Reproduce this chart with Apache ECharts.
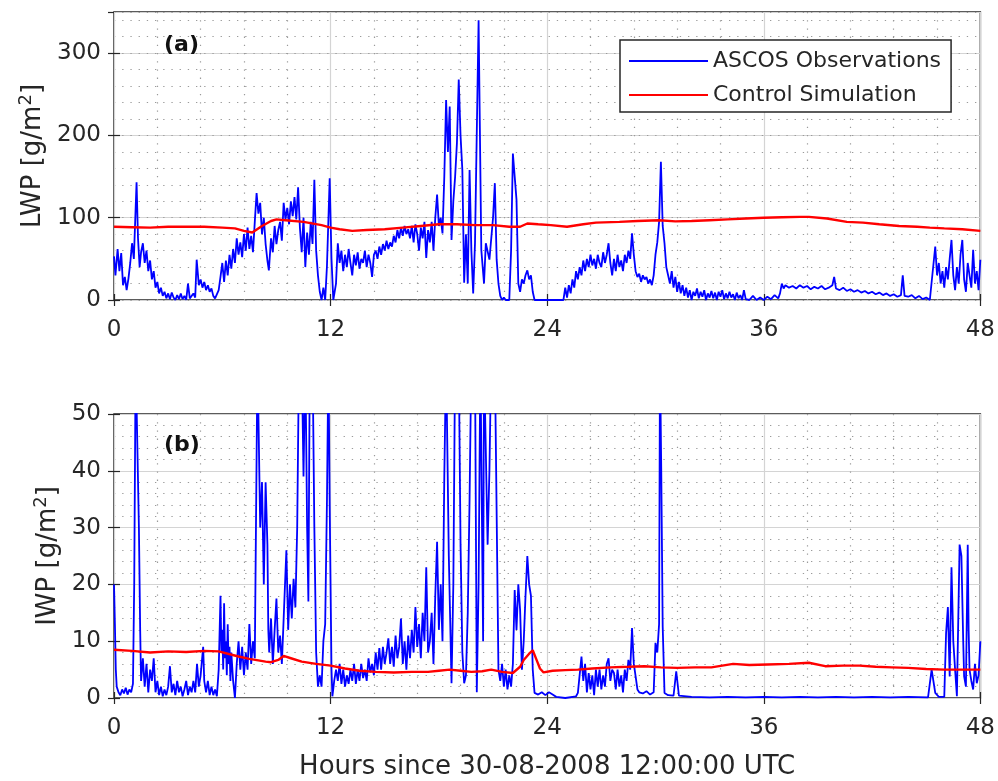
<!DOCTYPE html>
<html>
<head>
<meta charset="utf-8">
<script src="https://cdn.jsdelivr.net/npm/echarts@6/dist/echarts.min.js"></script>
<style>html,body{margin:0;padding:0;background:#fff;}#c{width:998px;height:781px;}</style>
</head>
<body>
<div id="c"></div>
<script>
// Hours since 30-08-2008 12:00:00 UTC
const xTicks = [0, 12, 24, 36, 48];
const lwpTicks = [0, 100, 200, 300];
const iwpTicks = [0, 10, 20, 30, 40, 50];

// LWP observations [hour, g/m2]
const obsLWP = [[0,53],[0.08,30],[0.2,62],[0.3,35],[0.4,57],[0.5,18],[0.6,28],[0.7,12],[0.8,26],[0.9,45],[1.0,69],[1.1,50],[1.25,143],[1.33,75],[1.42,40],[1.5,58],[1.6,69],[1.7,45],[1.8,60],[1.9,35],[2.0,48],[2.1,25],[2.2,35],[2.3,15],[2.4,22],[2.5,8],[2.6,15],[2.7,5],[2.8,10],[2.9,2],[3.0,8],[3.1,1],[3.2,9],[3.3,3],[3.4,0],[3.5,6],[3.6,1],[3.7,8],[3.8,1],[3.9,5],[4.0,0],[4.1,20],[4.2,2],[4.3,0],[4.4,8],[4.5,3],[4.58,49],[4.7,18],[4.8,25],[4.9,15],[5.0,22],[5.1,12],[5.2,18],[5.3,10],[5.4,14],[5.5,5],[5.6,2],[5.7,0],[5.8,12],[5.9,28],[6.0,45],[6.1,22],[6.2,48],[6.3,30],[6.4,55],[6.5,38],[6.6,62],[6.7,45],[6.8,75],[6.9,55],[7.0,70],[7.1,52],[7.2,80],[7.3,60],[7.4,88],[7.5,62],[7.6,78],[7.7,58],[7.8,95],[7.9,130],[8.0,105],[8.1,118],[8.2,80],[8.3,100],[8.4,68],[8.5,48],[8.58,36],[8.7,75],[8.8,58],[8.9,90],[9.0,68],[9.1,85],[9.2,95],[9.3,72],[9.4,118],[9.5,98],[9.6,112],[9.7,92],[9.8,120],[9.9,102],[10.0,125],[10.1,98],[10.2,137],[10.3,88],[10.4,58],[10.5,100],[10.6,40],[10.7,82],[10.8,55],[10.9,95],[11.0,68],[11.1,146],[11.2,60],[11.3,30],[11.4,10],[11.5,0],[11.6,15],[11.7,0],[11.8,42],[11.95,148],[12.05,50],[12.15,0],[12.3,20],[12.4,69],[12.5,45],[12.6,60],[12.7,35],[12.8,55],[12.9,40],[13.0,62],[13.1,45],[13.2,30],[13.3,55],[13.4,42],[13.5,58],[13.6,38],[13.7,50],[13.8,45],[13.9,60],[14.0,40],[14.1,55],[14.2,45],[14.3,28],[14.4,55],[14.5,60],[14.6,50],[14.7,65],[14.8,55],[14.9,68],[15.0,60],[15.1,72],[15.2,62],[15.3,70],[15.4,65],[15.5,78],[15.6,70],[15.7,85],[15.8,75],[15.9,88],[16.0,78],[16.1,90],[16.2,80],[16.3,86],[16.4,75],[16.5,90],[16.6,70],[16.7,92],[16.8,80],[16.9,60],[17.0,88],[17.1,75],[17.2,95],[17.3,51],[17.4,85],[17.5,70],[17.6,95],[17.7,60],[17.8,100],[17.9,128],[18.0,90],[18.1,100],[18.2,81],[18.3,150],[18.4,243],[18.5,180],[18.6,235],[18.7,73],[18.8,120],[18.9,150],[19.0,191],[19.1,268],[19.2,200],[19.3,158],[19.4,21],[19.5,80],[19.6,20],[19.7,158],[19.8,60],[19.9,8],[20.0,69],[20.2,340],[20.35,61],[20.5,20],[20.6,69],[20.8,49],[21.0,100],[21.1,142],[21.2,49],[21.3,20],[21.4,5],[21.5,0],[21.6,3],[21.7,0],[21.8,2],[21.9,0],[22.0,60],[22.1,178],[22.2,150],[22.3,122],[22.4,20],[22.5,10],[22.6,25],[22.7,20],[22.8,30],[22.9,36],[23.0,25],[23.1,30],[23.2,10],[23.3,0],[24.0,0],[24.9,0],[25.0,15],[25.1,3],[25.2,18],[25.3,8],[25.4,25],[25.5,15],[25.6,35],[25.7,25],[25.8,40],[25.9,30],[26.0,48],[26.1,35],[26.2,50],[26.3,40],[26.4,55],[26.5,42],[26.6,50],[26.7,38],[26.8,55],[26.9,45],[27.0,40],[27.1,58],[27.2,45],[27.3,55],[27.4,69],[27.5,45],[27.6,30],[27.7,50],[27.8,35],[27.9,55],[28.0,40],[28.1,48],[28.2,35],[28.3,55],[28.4,45],[28.5,60],[28.6,50],[28.7,81],[28.8,55],[28.9,35],[29.0,28],[29.1,32],[29.2,22],[29.3,30],[29.4,25],[29.5,28],[29.6,20],[29.7,25],[29.8,18],[29.9,30],[30.0,55],[30.1,70],[30.2,95],[30.3,168],[30.4,90],[30.5,69],[30.6,40],[30.7,30],[30.8,20],[30.9,35],[31.0,15],[31.1,28],[31.2,10],[31.3,22],[31.4,8],[31.5,18],[31.6,5],[31.7,15],[31.8,3],[31.9,12],[32.0,0],[32.1,10],[32.2,5],[32.3,14],[32.4,2],[32.5,10],[32.6,4],[32.7,12],[32.8,0],[32.9,8],[33.0,3],[33.1,11],[33.2,2],[33.3,9],[33.4,0],[33.5,10],[33.6,4],[33.7,12],[33.8,1],[33.9,8],[34.0,2],[34.1,10],[34.2,3],[34.3,7],[34.4,0],[34.5,9],[34.6,2],[34.7,6],[34.8,0],[34.9,12],[35.0,1],[35.2,0],[35.4,5],[35.6,0],[35.8,3],[36.0,0],[36.2,4],[36.4,1],[36.6,6],[36.8,2],[36.9,8],[37.0,20],[37.1,14],[37.2,18],[37.4,15],[37.6,17],[37.8,14],[38.0,18],[38.2,15],[38.4,17],[38.6,13],[38.8,16],[39.0,14],[39.2,17],[39.4,13],[39.6,15],[39.8,18],[39.9,28],[40.0,14],[40.2,12],[40.4,15],[40.6,11],[40.8,13],[41.0,10],[41.2,12],[41.4,9],[41.6,11],[41.8,8],[42.0,10],[42.2,7],[42.4,9],[42.6,6],[42.8,8],[43.0,5],[43.2,7],[43.4,4],[43.6,6],[43.7,30],[43.8,5],[44.0,4],[44.2,6],[44.4,2],[44.6,5],[44.8,1],[45.0,3],[45.2,0],[45.3,0],[45.5,65],[45.6,30],[45.7,45],[45.8,20],[45.9,35],[46.0,15],[46.1,40],[46.2,25],[46.3,50],[46.4,73],[46.5,30],[46.6,12],[46.7,40],[46.8,20],[46.9,55],[47.0,73],[47.1,25],[47.2,10],[47.3,45],[47.4,30],[47.5,15],[47.6,61],[47.7,20],[47.8,35],[47.9,12],[48.0,49]];

// LWP control simulation [hour, g/m2]
const simLWP = [[0,89],[1,88.5],[2,88],[3,89],[4,89],[5,89],[6,88],[6.7,87],[7.2,84],[7.66,82],[8.2,90],[8.7,96],[9.0,98],[9.5,97],[10.5,95],[11.5,91],[12,88],[12.5,86],[13.2,84],[14,85],[15,86],[16,88],[17,90],[18,92],[19,92],[20,91],[21,91],[21.9,89],[22.5,89],[22.9,93],[23.5,92],[24.2,91],[25.1,89],[26,92],[26.7,94],[28,95],[29,96],[30.2,97],[31.1,95.5],[32,96],[33,97],[34,98],[35,99],[36,100],[37,100.5],[38,101],[38.5,101],[39.5,99],[40.6,95],[41.5,94],[42.4,92],[43.5,90],[44.5,89],[45.2,88],[46,87],[47,86],[48,84]];

// IWP observations [hour, g/m2] (values above 50 run off the top of the panel)
const obsIWP = [[0,20],[0.05,13],[0.1,5],[0.15,2],[0.25,1],[0.35,0.5],[0.45,1.5],[0.55,0.8],[0.65,1.8],[0.75,0.6],[0.85,1.5],[0.95,1],[1.05,2.5],[1.12,20],[1.2,60],[1.3,60],[1.38,30],[1.45,12],[1.5,3],[1.6,7],[1.7,2],[1.8,6],[1.9,1],[2.0,5],[2.1,3],[2.2,7],[2.3,1],[2.4,3],[2.5,0.5],[2.6,2],[2.7,0.3],[2.8,1.5],[2.9,0.5],[3.0,2],[3.1,5.6],[3.2,1],[3.3,2.5],[3.4,0.5],[3.5,3],[3.6,1],[3.7,2],[3.8,0.3],[3.9,1.5],[4.0,3],[4.1,0.5],[4.2,2],[4.3,1],[4.4,3],[4.5,1],[4.6,6],[4.7,2],[4.8,4],[4.94,9],[5.0,3],[5.1,1],[5.2,3],[5.3,0.5],[5.4,2],[5.5,0.5],[5.6,1.5],[5.7,0.3],[5.8,5],[5.9,18],[5.95,8],[6.0,12],[6.05,5],[6.1,16.7],[6.15,7],[6.2,10],[6.25,4],[6.3,13],[6.35,6],[6.4,9],[6.45,3],[6.5,8],[6.6,3],[6.7,0],[6.8,6],[6.9,10],[7.0,5],[7.1,9],[7.2,4],[7.3,8],[7.4,5],[7.5,13],[7.6,6],[7.7,10],[7.8,7],[7.95,60],[8.05,60],[8.1,30],[8.2,38],[8.3,20],[8.4,38],[8.5,27],[8.55,12],[8.6,8],[8.7,14],[8.8,6],[8.9,12],[9.0,17.5],[9.1,8],[9.2,11],[9.3,6],[9.4,14],[9.55,26],[9.65,12],[9.75,20],[9.85,14],[9.95,21],[10.05,16],[10.15,30],[10.25,60],[10.4,60],[10.5,39],[10.6,60],[10.7,30],[10.77,17],[10.85,60],[11.0,60],[11.1,30],[11.2,8],[11.3,2],[11.4,4],[11.5,2],[11.6,10],[11.7,13],[11.8,35],[11.88,60],[11.92,60],[11.95,34],[12.05,5],[12.1,0.3],[12.2,3],[12.3,5],[12.4,3],[12.5,6],[12.6,2.5],[12.7,5],[12.8,2],[12.9,4],[13.0,2.5],[13.1,5],[13.2,3],[13.3,6],[13.4,2.5],[13.5,5],[13.6,3],[13.7,6],[13.8,3.5],[13.9,5],[14.0,3],[14.1,7],[14.2,4.5],[14.3,6],[14.4,4],[14.5,8],[14.6,5],[14.7,8.8],[14.8,5],[14.9,9],[15.0,6],[15.1,8],[15.2,10.5],[15.3,6],[15.4,9],[15.5,5.5],[15.6,11],[15.7,7],[15.8,9],[15.9,14],[16.0,6],[16.1,10],[16.2,5],[16.3,11],[16.4,7],[16.5,12],[16.6,8],[16.7,16],[16.8,9],[16.9,13],[17.0,7],[17.1,15],[17.2,10],[17.3,23],[17.4,8],[17.5,10],[17.6,15],[17.7,6],[17.8,18],[17.9,27.5],[18.0,12],[18.1,20],[18.2,10],[18.3,39],[18.4,60],[18.5,60],[18.55,25],[18.7,2.6],[18.8,20],[18.9,60],[19.0,60],[19.1,60],[19.2,27],[19.3,8],[19.4,2.6],[19.5,4],[19.6,15],[19.7,35],[19.8,60],[19.9,60],[20.0,60],[20.1,1],[20.2,20],[20.3,60],[20.4,60],[20.45,10],[20.5,60],[20.6,60],[20.7,27],[20.8,40],[20.9,60],[21.0,60],[21.1,60],[21.2,60],[21.3,5],[21.4,3],[21.5,6],[21.6,2],[21.7,5],[21.8,1.5],[21.9,4],[22.0,2],[22.1,6],[22.2,19],[22.3,12],[22.4,20],[22.5,15.5],[22.6,5],[22.7,10],[22.8,18],[22.9,25],[23.0,20],[23.1,18],[23.2,5],[23.3,0.9],[23.5,0.6],[23.7,1],[23.9,0.5],[24.1,1],[24.3,0.6],[24.5,0.2],[25.0,0],[25.6,0.3],[25.7,0.9],[25.9,7.3],[26.0,3],[26.1,6],[26.2,1],[26.3,4.4],[26.4,1.5],[26.5,4],[26.6,0.5],[26.7,5],[26.8,2],[26.9,5],[27.0,1.5],[27.1,4],[27.2,2],[27.3,6],[27.4,7],[27.5,3],[27.6,5],[27.7,4.4],[27.8,1.5],[27.9,5],[28.0,2],[28.1,4],[28.2,1],[28.3,5],[28.4,3],[28.5,6.7],[28.6,5],[28.7,12.3],[28.8,6],[28.9,3.8],[29.0,1.5],[29.1,1],[29.3,0.8],[29.5,1.2],[29.7,0.6],[29.9,1],[30.0,9.7],[30.1,8],[30.2,13],[30.25,60],[30.32,40],[30.4,12.6],[30.5,0.9],[30.7,0.5],[31.0,0.4],[31.15,4.7],[31.3,0.4],[32,0.2],[33,0.1],[34,0.2],[35,0.1],[36,0.2],[37,0.1],[38,0.2],[39,0.1],[40,0.2],[41,0.1],[42,0.2],[43,0.1],[44,0.2],[45.1,0.1],[45.3,5],[45.5,0.9],[45.7,0.2],[46.0,0.2],[46.1,11.4],[46.2,16],[46.3,3.8],[46.4,23],[46.5,10],[46.6,5],[46.7,0.3],[46.85,27],[46.95,25],[47.05,10],[47.1,3.8],[47.2,2],[47.3,27],[47.35,12],[47.4,5],[47.5,3],[47.6,1.5],[47.7,6],[47.8,2.6],[47.9,4],[48.0,10]];

// IWP control simulation [hour, g/m2]
const simIWP = [[0,8.5],[1,8.3],[2,8.0],[3,8.2],[4,8.1],[5,8.3],[5.8,8.2],[6.9,7.3],[7.5,6.9],[8.4,6.4],[8.7,6.3],[9.1,6.7],[9.4,7.4],[9.8,7.0],[10.4,6.4],[11.2,6.0],[12,5.7],[12.8,5.2],[13.6,4.8],[14.5,4.6],[15.5,4.5],[16.5,4.6],[17.4,4.6],[18.0,4.8],[18.6,5.0],[19.2,4.8],[19.8,4.6],[20.4,4.7],[20.9,5.0],[21.5,4.6],[22.1,4.4],[22.5,5.5],[22.7,6.7],[23.0,7.8],[23.2,8.4],[23.4,6.8],[23.6,5.2],[23.8,4.5],[24.3,4.8],[25.0,4.9],[25.7,5.0],[26.5,5.2],[27.5,5.4],[28.5,5.5],[29.4,5.6],[30.3,5.4],[31.2,5.3],[32.2,5.4],[33.1,5.4],[34.3,6.0],[35.2,5.8],[36.2,5.9],[37.4,6.0],[38.5,6.2],[39.4,5.6],[40.4,5.7],[41.3,5.7],[42.2,5.5],[43.1,5.4],[44.0,5.3],[45.0,5.1],[46.0,5.0],[47.0,5.0],[48,5.0]];

const FONT = 'DejaVu Sans';
const TXT = '#262626';
const majorLine = { show: true, lineStyle: { color: '#d4d4d4', width: 1.2 } };
const dotLine = { show: true, lineStyle: { color: '#9a9a9a', width: 1.2, type: [1.3, 6.9] } };
const tick = { show: true, inside: true, length: 6, lineStyle: { color: TXT, width: 1.2 } };

function xAxes(grid, withName) {
  return [
    { type: 'value', gridIndex: grid, min: xTicks[0], max: xTicks[xTicks.length - 1], interval: 12, position: 'bottom',
      axisLine: { show: false }, axisTick: tick,
      axisLabel: { color: TXT, fontFamily: FONT, fontSize: 23, margin: 19 },
      splitLine: majorLine, minorTick: { show: false, splitNumber: 5 }, minorSplitLine: dotLine,
      name: withName ? 'Hours since 30-08-2008 12:00:00 UTC' : '', nameLocation: 'middle', nameGap: 56,
      nameTextStyle: { color: TXT, fontFamily: FONT, fontSize: 26 } },
    { type: 'value', gridIndex: grid, min: 0, max: 48, interval: 12, position: 'top',
      axisLine: { show: false }, axisTick: tick, axisLabel: { show: false }, splitLine: { show: false } }
  ];
}

const option = {
  animation: false,
  backgroundColor: '#ffffff',
  grid: [
    { left: 114, right: 17, top: 12, height: 288, show: true, borderColor: TXT, borderWidth: 1.5, backgroundColor: '#fff' },
    { left: 114, right: 17, top: 414, height: 284, show: true, borderColor: TXT, borderWidth: 1.5, backgroundColor: '#fff' }
  ],
  xAxis: [].concat(xAxes(0, false), xAxes(1, true)),
  yAxis: [
    { type: 'value', gridIndex: 0, min: 0, max: 350, interval: 100, position: 'left',
      axisLine: { show: false }, axisTick: tick,
      axisLabel: { color: TXT, fontFamily: FONT, fontSize: 23, margin: 13, showMaxLabel: false },
      splitLine: majorLine,
      name: '{a|LWP [g/m}{s|2}{a|]}', nameLocation: 'middle', nameGap: 64, nameRotate: 90,
      nameTextStyle: { rich: { a: { color: TXT, fontFamily: FONT, fontSize: 26, lineHeight: 32 }, s: { color: TXT, fontFamily: FONT, fontSize: 18, lineHeight: 18, verticalAlign: 'top' } } } },
    { type: 'value', gridIndex: 0, min: 0, max: 350, interval: 100, position: 'right',
      axisLine: { show: false }, axisTick: tick, axisLabel: { show: false }, splitLine: { show: false } },
    { type: 'value', gridIndex: 0, min: 0, max: 350, interval: 20, position: 'left', offset: 0,
      axisLine: { show: false }, axisTick: { show: false }, axisLabel: { show: false }, splitLine: dotLine },
    { type: 'value', gridIndex: 1, min: 0, max: 50, interval: 10, position: 'left',
      axisLine: { show: false }, axisTick: tick,
      axisLabel: { color: TXT, fontFamily: FONT, fontSize: 23, margin: 13 },
      splitLine: majorLine, minorTick: { show: false, splitNumber: 5 }, minorSplitLine: dotLine,
      name: '{a|IWP [g/m}{s|2}{a|]}', nameLocation: 'middle', nameGap: 49, nameRotate: 90,
      nameTextStyle: { rich: { a: { color: TXT, fontFamily: FONT, fontSize: 26, lineHeight: 32 }, s: { color: TXT, fontFamily: FONT, fontSize: 18, lineHeight: 18, verticalAlign: 'top' } } } },
    { type: 'value', gridIndex: 1, min: 0, max: 50, interval: 10, position: 'right',
      axisLine: { show: false }, axisTick: tick, axisLabel: { show: false }, splitLine: { show: false } }
  ],
  legend: {
    left: 620, top: 40, orient: 'vertical', selectedMode: false,
    data: [
      { name: 'ASCOS Observations', icon: 'rect', itemStyle: { color: '#0000ff' } },
      { name: 'Control Simulation', icon: 'rect', itemStyle: { color: '#ff0000' } }
    ],
    itemWidth: 79, itemHeight: 2, itemGap: 12,
    padding: [10, 10, 6, 9],
    backgroundColor: '#ffffff', borderColor: TXT, borderWidth: 1.5,
    textStyle: { color: TXT, fontFamily: FONT, fontSize: 22, lineHeight: 22 }
  },
  graphic: [
    { type: 'text', left: 164, top: 34, z: 100, style: { text: '(a)', fill: '#111', font: 'bold 22px "DejaVu Sans"' } },
    { type: 'text', left: 164, top: 434, z: 100, style: { text: '(b)', fill: '#111', font: 'bold 22px "DejaVu Sans"' } }
  ],
  series: [
    { name: 'ASCOS Observations', type: 'line', xAxisIndex: 0, yAxisIndex: 0, data: obsLWP, symbol: 'none', lineStyle: { color: '#0000ff', width: 1.8 }, itemStyle: { color: '#0000ff' }, z: 3 },
    { name: 'Control Simulation', type: 'line', xAxisIndex: 0, yAxisIndex: 0, data: simLWP, symbol: 'none', lineStyle: { color: '#ff0000', width: 2.4 }, itemStyle: { color: '#ff0000' }, z: 4 },
    { name: 'ASCOS Observations', type: 'line', xAxisIndex: 2, yAxisIndex: 3, data: obsIWP, symbol: 'none', lineStyle: { color: '#0000ff', width: 1.8 }, itemStyle: { color: '#0000ff' }, z: 3 },
    { name: 'Control Simulation', type: 'line', xAxisIndex: 2, yAxisIndex: 3, data: simIWP, symbol: 'none', lineStyle: { color: '#ff0000', width: 2.4 }, itemStyle: { color: '#ff0000' }, z: 4 }
  ]
};

const chart = echarts.init(document.getElementById('c'), null, { renderer: 'canvas' });
chart.setOption(option);
</script>
</body>
</html>
